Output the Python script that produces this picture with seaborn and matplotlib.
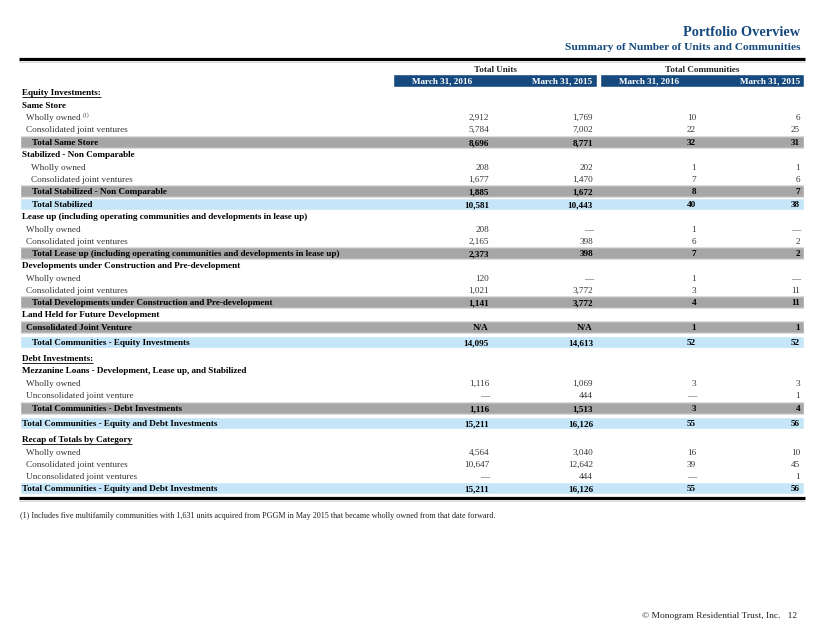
import matplotlib
matplotlib.use("Agg")
import matplotlib.pyplot as plt
import seaborn as sns
import numpy as np

# ---- table content ----
row_labels = [
    "Equity Investments:", "Same Store", "Wholly owned", "Consolidated joint ventures",
    "Total Same Store", "Stabilized - Non Comparable", "Wholly owned",
    "Consolidated joint ventures", "Total Stabilized - Non Comparable", "Total Stabilized",
    "Lease up (including operating communities and developments in lease up)",
    "Wholly owned", "Consolidated joint ventures",
    "Total Lease up (including operating communities and developments in lease up)",
    "Developments under Construction and Pre-development", "Wholly owned",
    "Consolidated joint ventures", "Total Developments under Construction and Pre-development",
    "Land Held for Future Development", "Consolidated Joint Venture",
    "Total Communities - Equity Investments", "Debt Investments:",
    "Mezzanine Loans - Development, Lease up, and Stabilized", "Wholly owned",
    "Unconsolidated joint venture", "Total Communities - Debt Investments",
    "Total Communities - Equity and Debt Investments", "Recap of Totals by Category",
    "Wholly owned", "Consolidated joint ventures", "Unconsolidated joint ventures",
    "Total Communities - Equity and Debt Investments",
]
# row kinds: head_u = bold underlined, head = bold, item = regular, sub = grey band, tot = blue band
row_kinds = [
    "head_u", "head", "item", "item", "sub", "head", "item2", "item2", "sub", "tot",
    "head", "item", "item", "sub", "head", "item", "item", "sub", "head", "sub",
    "tot", "head_u", "head", "item", "item", "sub", "tot", "head_u",
    "item", "item", "item", "tot",
]
nan = np.nan
units_2016 = [nan, nan, 2912, 5784, 8696, nan, 208, 1677, 1885, 10581, nan, 208, 2165, 2373,
              nan, 120, 1021, 1141, nan, "N/A", 14095, nan, nan, 1116, 0, 1116, 15211, nan,
              4564, 10647, 0, 15211]
units_2015 = [nan, nan, 1769, 7002, 8771, nan, 202, 1470, 1672, 10443, nan, 0, 398, 398,
              nan, 0, 3772, 3772, nan, "N/A", 14613, nan, nan, 1069, 444, 1513, 16126, nan,
              3040, 12642, 444, 16126]
comms_2016 = [nan, nan, 10, 22, 32, nan, 1, 7, 8, 40, nan, 1, 6, 7,
              nan, 1, 3, 4, nan, 1, 52, nan, nan, 3, 0, 3, 55, nan,
              16, 39, 0, 55]
comms_2015 = [nan, nan, 6, 25, 31, nan, 1, 6, 7, 38, nan, 0, 2, 2,
              nan, 0, 11, 11, nan, 1, 52, nan, nan, 3, 1, 4, 56, nan,
              10, 45, 1, 56]
col_groups = ["Total Units", "Total Communities"]
col_dates = ["March 31, 2016", "March 31, 2015"]

title = "Portfolio Overview"
subtitle = "Summary of Number of Units and Communities"
footnote = ("(1) Includes five multifamily communities with 1,631 units acquired from PGGM "
            "in May 2015 that became wholly owned from that date forward.")
footer = "\u00a9 Monogram Residential Trust, Inc.   12"

# ---- layout (pixels) ----
row_y = [92, 105, 117, 129, 142, 154, 167, 179, 191, 204, 216, 229, 241, 253, 265, 278,
         290, 302, 314, 327, 342, 358, 370, 383, 395, 408, 423, 439, 452, 464, 476, 488]
col_right = [489, 593, 696, 800]

NAVY = "#164a7e"
GREY = "#a6a6a6"
LIGHT = "#c5e6f9"
FS = 6.6
BASE = 3.0   # baseline offset below row centre

sns.set_theme(style="white")
plt.rcParams["font.family"] = ["Liberation Serif", "DejaVu Serif"]

fig = plt.figure(figsize=(8.22, 6.35), dpi=100)
ax = fig.add_axes([0, 0, 1, 1])
ax.set_xlim(0, 822)
ax.set_ylim(635, 0)
ax.axis("off")

# title block
ax.text(800, 36, title, ha="right", va="baseline", fontsize=10.4, fontweight="bold", color=NAVY)
ax.text(800, 50, subtitle, ha="right", va="baseline", fontsize=8.2, fontweight="bold", color=NAVY)
ax.hlines(59, 19, 805, color="black", lw=2.3)
ax.hlines(61.5, 19, 805, color="#bbbbbb", lw=0.4)

# column headers
ax.text(495, 69 + BASE, col_groups[0], ha="center", va="baseline", fontsize=FS, fontweight="bold")
ax.text(702, 69 + BASE, col_groups[1], ha="center", va="baseline", fontsize=FS, fontweight="bold")
ax.barh([80.5, 80.5], [204, 204], left=[393, 600], height=12.5, color=NAVY)
for left, right in [(412, 592), (619, 800)]:
    ax.text(left, 80.5 + BASE, col_dates[0], ha="left", va="baseline", fontsize=FS,
            fontweight="bold", color="white")
    ax.text(right, 80.5 + BASE, col_dates[1], ha="right", va="baseline", fontsize=FS,
            fontweight="bold", color="white")

# bands for subtotal / total rows
for y, kind in zip(row_y, row_kinds):
    if kind == "sub":
        ax.barh(y, 784, left=20, height=11.5, color=GREY)
        ax.hlines([y - 5.75, y + 5.75], 20, 804, color="#cfcfcf", lw=0.5)
    elif kind == "tot":
        ax.barh(y, 784, left=20, height=11.5, color=LIGHT)

indent = {"head_u": 22, "head": 22, "item": 26, "item2": 31, "sub": 32, "tot": 32}
fig.canvas.draw()
renderer = fig.canvas.get_renderer()
inv = ax.transData.inverted()

for i, (label, kind, y) in enumerate(zip(row_labels, row_kinds, row_y)):
    x = indent[kind]
    if label == "Consolidated Joint Venture":
        x = 26
    if label == "Total Communities - Equity and Debt Investments":
        x = 22
    bold = kind in ("head_u", "head", "sub", "tot")
    t = ax.text(x, y + BASE, label, ha="left", va="baseline", fontsize=FS,
                fontweight="bold" if bold else "normal",
                color="black" if bold else "#333333")
    if kind == "head_u" or i == 2:
        bb = t.get_window_extent(renderer)
        (x0, _), (x1, _) = inv.transform([[bb.x0, bb.y0], [bb.x1, bb.y1]])
        if kind == "head_u":
            ax.hlines(y + 5, x0, x1, color="black", lw=0.6)
        else:
            ax.text(x1 + 2, y, "(1)", ha="left", va="baseline", fontsize=4.2, color="#333333")

    for col, vals in enumerate([units_2016, units_2015, comms_2016, comms_2015]):
        v = vals[i]
        if isinstance(v, str):
            s = v
        elif np.isnan(v):
            continue
        elif v == 0:
            s = "\u2014"
        else:
            s = f"{int(v):,}"
        ax.text(col_right[col], y + BASE, s, ha="right", va="baseline", fontsize=FS,
                fontweight="bold" if bold else "normal",
                color="black" if bold else "#333333")

ax.hlines(498, 19, 805, color="black", lw=2.3)
ax.hlines(501, 19, 805, color="#bbbbbb", lw=0.4)

ax.text(20, 518, footnote, ha="left", va="baseline", fontsize=5.9, color="#222222")
ax.text(797, 618, footer, ha="right", va="baseline", fontsize=6.8, color="#222222")

fig.savefig("out.png", dpi=100, facecolor="white")
